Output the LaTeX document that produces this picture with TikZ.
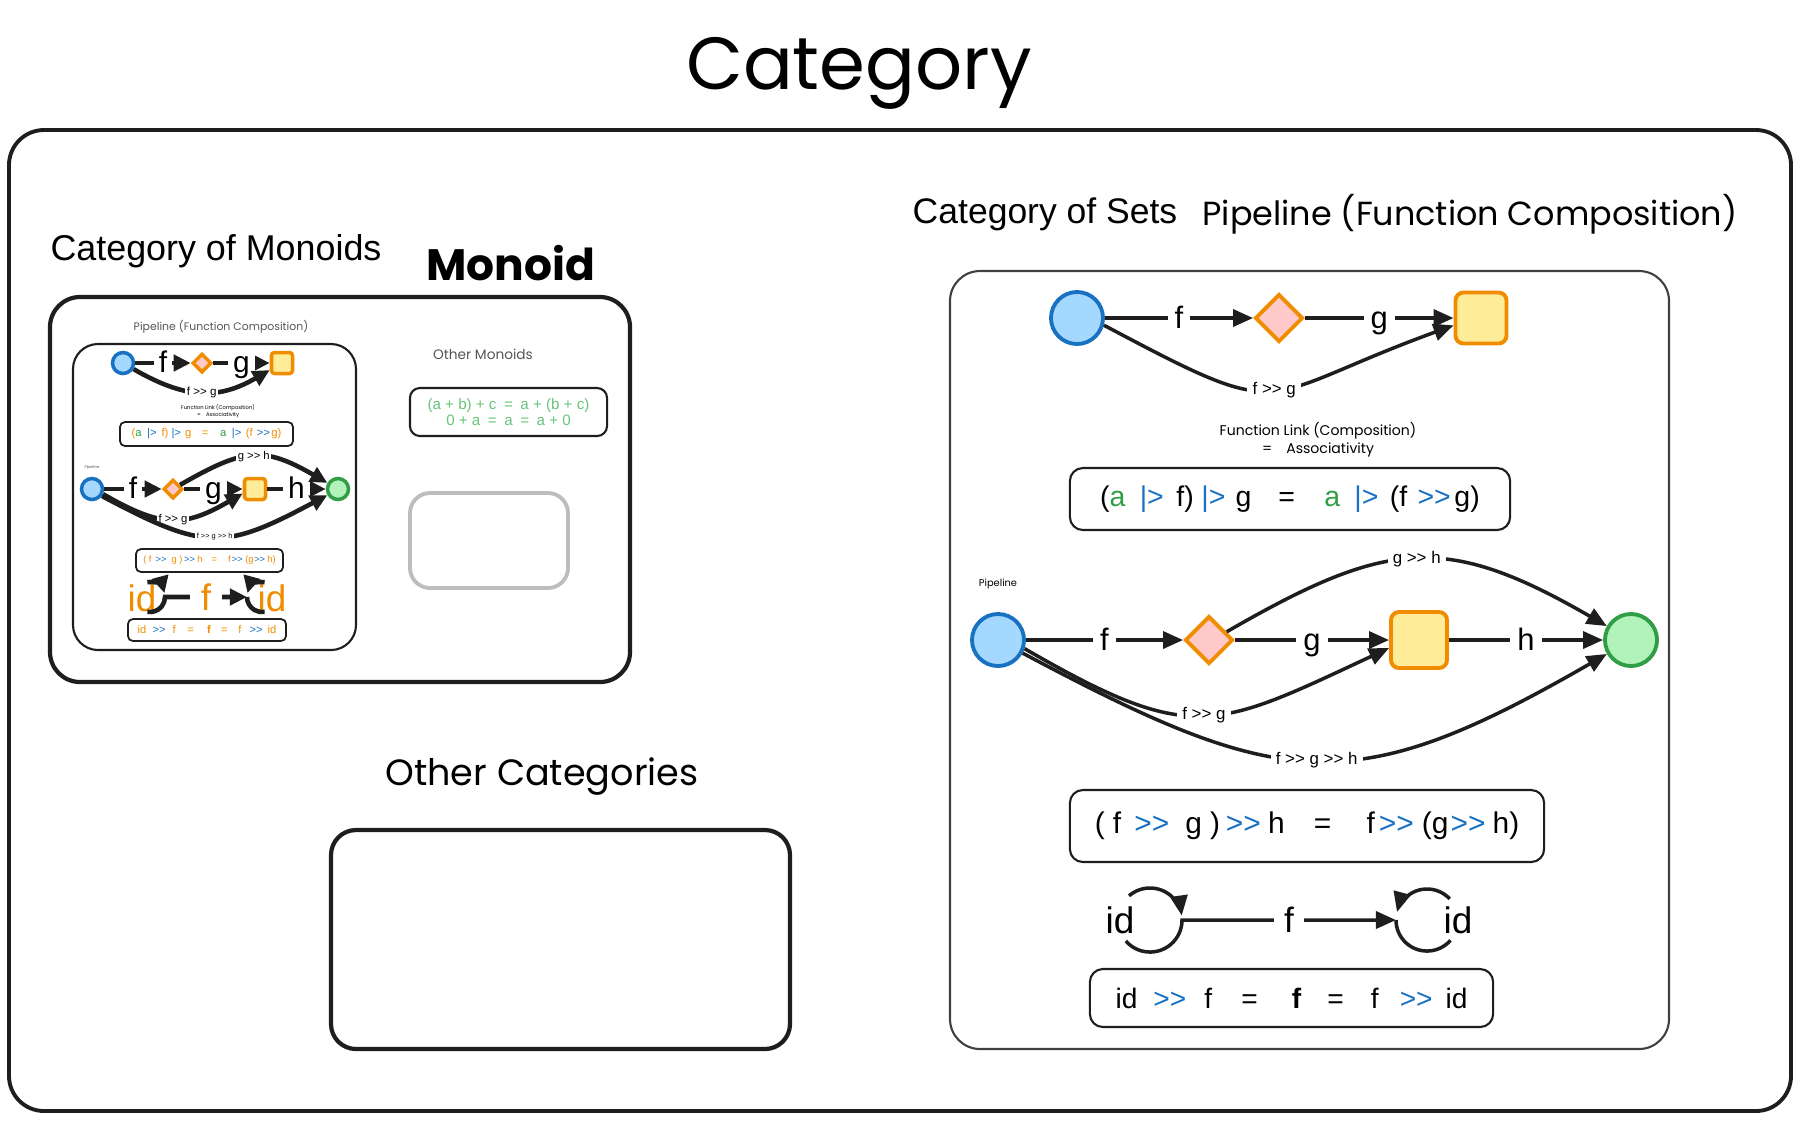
\documentclass[tikz,border=0pt]{standalone}
\usepackage{fontspec}
\setmainfont{Liberation Sans}
\newfontfamily\handfont{Poppins}
\usepackage{tikz}
\usetikzlibrary{positioning}
\usetikzlibrary{shapes.geometric}
\usetikzlibrary{arrows.meta}

\definecolor{inkblack}{HTML}{1E1E1E}
\definecolor{opblue}{HTML}{1971C2}
\definecolor{valgreen}{HTML}{2F9E44}
\definecolor{fnorange}{HTML}{F08C00}
\definecolor{lawgreen}{HTML}{69C47A}
\definecolor{srcfill}{HTML}{A5D8FF}
\definecolor{midfill}{HTML}{FFC9C9}
\definecolor{tgtfill}{HTML}{FFEC99}
\definecolor{endfill}{HTML}{B2F2BB}
\definecolor{boxgray}{HTML}{BDBDBD}
\definecolor{notegray}{HTML}{555555}

\newcommand{\fsz}[1]{\fontsize{#1}{#1}\selectfont}
\newcommand{\gtgt}{>\kern0pt>}
\newcommand{\compop}{\textcolor{opblue}{\gtgt}}
\newcommand{\pipeop}{\textcolor{opblue}{|>}}
\newcommand{\assoclaw}{(\textcolor{valgreen}{a}\hspace{.5em}\pipeop\hspace{.44em}f)\hspace{.27em}\pipeop\hspace{.36em}g\hspace{.94em}=\hspace{1.03em}\textcolor{valgreen}{a}\hspace{.5em}\pipeop\hspace{.4em}(f\hspace{.36em}\compop\hspace{.13em}g)}
\newcommand{\composelaw}{(\hspace{.27em}f\hspace{.44em}\compop\hspace{.54em}g\hspace{.27em})\hspace{.2em}\compop\hspace{.24em}h\hspace{.98em}=\hspace{1.18em}f\hspace{.13em}\compop\hspace{.27em}(g\hspace{.07em}\compop\hspace{.24em}h)}
\newcommand{\identlaw}{id\hspace{.57em}\compop\hspace{.64em}f\hspace{1.04em}=\hspace{1.21em}\textbf{f}\hspace{.93em}=\hspace{.96em}f\hspace{.75em}\compop\hspace{.46em}id}

\begin{document}
\begin{tikzpicture}[x=0.01cm, y=0.01cm,
	morphline/.style={line width=1pt, draw=inkblack},
	morph/.style={morphline, -{Triangle[length=0.2cm,width=0.17cm]}},
	minimorphline/.style={line width=1.3pt, draw=inkblack},
	minimorph/.style={minimorphline, -{Triangle[length=0.17cm,width=0.16cm]}},
	objsrc/.style={circle, draw=opblue, fill=srcfill, line width=1.1pt, minimum size=0.52cm, inner sep=0pt},
	objmid/.style={diamond, draw=fnorange, fill=midfill, line width=1.1pt, minimum width=0.48cm, minimum height=0.48cm, inner sep=0pt},
	objtgt/.style={rectangle, rounded corners=0.08cm, draw=fnorange, fill=tgtfill, line width=1.1pt, minimum size=0.51cm, inner sep=0pt},
	objend/.style={circle, draw=valgreen, fill=endfill, line width=1.1pt, minimum size=0.52cm, inner sep=0pt},
	arrowlbl/.style={fill=white, inner xsep=2pt, inner ysep=1pt, text height=1.5ex, text depth=0.4ex, font=\fsz{8.8}},
	complbl/.style={fill=white, inner xsep=1.5pt, inner ysep=0.5pt, font=\fsz{4.8}},
	minilbl/.style={fill=white, inner xsep=1.5pt, inner ysep=0pt, text height=1.3ex, text depth=0.3ex, font=\fsz{8.5}},
	minicomplbl/.style={fill=white, inner sep=0.4pt, font=\fsz{3.2}},
	lawbox/.style={draw=inkblack, line width=0.6pt, rounded corners=0.13cm, inner sep=0pt},
	minilawbox/.style={draw=inkblack, line width=0.5pt, rounded corners=0.05cm, inner sep=0pt, text=fnorange}
	]
	\useasboundingbox (0,0) rectangle (1800,-1120);

	\node[font={\handfont\fsz{21}}] (title) at (859,-73) {Category};
	\draw[line width=1.1pt, inkblack, rounded corners=0.35cm] (9,-130) rectangle (1791,-1111);

	\node[font=\fsz{10.2}] (monoidcat) at (216,-251) {Category of Monoids};
	\node[font={\handfont\bfseries\fsz{12.5}}] (monoidtitle) at (511,-263) {Monoid};
	\draw[line width=1.2pt, inkblack, rounded corners=0.3cm] (50,-297) rectangle (630,-682);
	\draw[line width=0.6pt, inkblack, rounded corners=0.25cm] (73,-344) rectangle (356,-650);
	\node[font={\handfont\fsz{3.1}}, text=notegray] (minipipetitle) at (221,-327) {Pipeline (Function Composition)};

	\node[objsrc, minimum size=0.21cm, line width=1pt] (mc1) at (123,-363) {};
	\node[objmid, minimum width=0.19cm, minimum height=0.19cm, line width=1pt] (md1) at (202,-363) {};
	\node[objtgt, minimum size=0.21cm, line width=1pt, rounded corners=0.03cm] (ms1) at (282,-363) {};
	\draw[minimorph] (mc1) -- node[minilbl]{f} (md1);
	\draw[minimorph] (md1) -- node[minilbl]{g} (ms1);
	\draw[minimorph] (mc1.-30) to[out=-30,in=210,looseness=1.12] node[minicomplbl, font=\fsz{3.3}]{f \gtgt{} g} (ms1.-150);
	\node[font={\handfont\fontsize{1.5}{2.1}\selectfont}, align=center] (minilinknote) at (218,-411) {Function Link (Composition)\\=\quad Associativity};
	\node[minilawbox, minimum width=1.73cm, minimum height=0.24cm, font=\fsz{3.2}] (miniassoc) at (206.5,-434) {\assoclaw};

	\node[font={\handfont\fsz{1.1}}, text=notegray] (minipipenote) at (92,-468) {Pipeline};
	\node[objsrc, minimum size=0.21cm, line width=1pt] (mc2) at (92,-489) {};
	\node[objmid, minimum width=0.19cm, minimum height=0.19cm, line width=1pt] (md2) at (173,-489) {};
	\node[objtgt, minimum size=0.21cm, line width=1pt, rounded corners=0.03cm] (ms2) at (255,-489) {};
	\node[objend, minimum size=0.21cm, line width=1pt] (me2) at (338,-489) {};
	\draw[minimorph] (mc2) -- node[minilbl]{f} (md2);
	\draw[minimorph] (md2) -- node[minilbl]{g} (ms2);
	\draw[minimorph] (ms2) -- node[minilbl]{h} (me2);
	\draw[minimorph] (md2.30) to[out=30,in=150,looseness=1.28] node[minicomplbl]{g \gtgt{} h} (me2.150);
	\draw[minimorph] (mc2.-25) to[out=-30,in=210,looseness=1.24] node[minicomplbl]{f \gtgt{} g} (ms2.-160);
	\draw[minimorph] (mc2.-35) to[out=-28,in=208,looseness=1.33] node[minicomplbl, font=\fsz{2.1}]{f \gtgt{} g \gtgt{} h} (me2.-150);
	\node[minilawbox, minimum width=1.47cm, minimum height=0.23cm, font=\fsz{2.65}] (minicompose) at (209.5,-560.5) {\composelaw};

	\coordinate (mlloop) at (150,-597);
	\coordinate (mrloop) at (262,-597);
	\node[font=\fsz{10.5}, text=fnorange] (midl) at (142,-598) {id};
	\node[font=\fsz{10.5}, text=fnorange] (midr) at (272,-598) {id};
	\draw[minimorph] ([shift={(100:0.15cm)}]mlloop) arc[start angle=100, end angle=15, radius=0.15cm];
	\draw[minimorph] ([shift={(260:0.15cm)}]mlloop) arc[start angle=260, end angle=360, radius=0.15cm] -- node[fill=white, inner xsep=3pt, inner ysep=0pt, font=\fsz{10.5}, text=fnorange] (midf) {f} ([xshift=-0.15cm]mrloop);
	\draw[minimorph] ([shift={(80:0.15cm)}]mrloop) arc[start angle=80, end angle=165, radius=0.15cm];
	\draw[minimorphline] ([shift={(180:0.15cm)}]mrloop) arc[start angle=180, end angle=280, radius=0.15cm];
	\node[minilawbox, minimum width=1.58cm, minimum height=0.22cm, font=\fsz{3.15}] (miniident) at (207,-630) {\identlaw};

	\node[font={\handfont\fsz{3.9}}, text=notegray] (othermon) at (483,-354) {Other Monoids};
	\node[draw=inkblack, line width=0.6pt, rounded corners=0.1cm, minimum width=1.97cm, minimum height=0.48cm, inner sep=0pt, align=center, text=lawgreen, font=\fontsize{4.3}{4.5}\selectfont] (monoidlaws) at (508.5,-412) {(a + b) + c\enspace=\enspace a + (b + c)\\0 + a\enspace=\enspace a\enspace=\enspace a + 0};
	\draw[boxgray, line width=1.1pt, rounded corners=0.2cm] (410,-493) rectangle (568,-588);

	\node[font={\handfont\fsz{10.4}}] (othercat) at (542,-776) {Other Categories};
	\draw[line width=1.2pt, inkblack, rounded corners=0.25cm] (331,-830) rectangle (790,-1049);

	\node[font=\fsz{10.1}] (setcat) at (1045,-214) {Category of Sets};
	\node[font={\handfont\fsz{9.5}}] (pipetitle) at (1470,-214) {Pipeline (Function Composition)};
	\draw[line width=0.6pt, inkblack!85, rounded corners=0.3cm] (950,-271) rectangle (1669,-1049);

	\node[objsrc] (c1) at (1077,-318) {};
	\node[objmid] (d1) at (1279,-318) {};
	\node[objtgt] (s1) at (1481,-318) {};
	\draw[morph] (c1) -- node[arrowlbl]{f} (d1);
	\draw[morph] (d1) -- node[arrowlbl]{g} (s1);
	\draw[morph] (c1.-15) to[out=-28,in=200,looseness=1.57] node[complbl]{f \gtgt{} g} (s1.-165);
	\node[font={\handfont\fontsize{4}{5.1}\selectfont}, align=center] (linknote) at (1318,-440) {Function Link (Composition)\\=\quad Associativity};
	\node[lawbox, minimum width=4.4cm, minimum height=0.62cm, font=\fsz{8.1}] (assoc) at (1290,-499) {\assoclaw};

	\node[font={\handfont\fsz{2.8}}] (pipenote) at (998,-584) {Pipeline};
	\node[objsrc] (c2) at (998,-640) {};
	\node[objmid] (d2) at (1209,-640) {};
	\node[objtgt, minimum size=0.56cm] (s2) at (1419,-640) {};
	\node[objend] (e2) at (1631,-640) {};
	\draw[morph] (c2) -- node[arrowlbl]{f} (d2);
	\draw[morph] (d2) -- node[arrowlbl]{g} (s2);
	\draw[morph] (s2) -- node[arrowlbl]{h} (e2);
	\draw[morph] (d2.25) to[out=30,in=150,looseness=1.25] node[complbl]{g \gtgt{} h} (e2.150);
	\draw[morph] (c2.-18) to[out=-30,in=205,looseness=1.36] node[complbl]{f \gtgt{} g} (s2.-165);
	\draw[morph] (c2.-28) to[out=-28,in=210,looseness=1.29] node[complbl]{f \gtgt{} g \gtgt{} h} (e2.-150);
	\node[lawbox, minimum width=4.74cm, minimum height=0.72cm, font=\fsz{8.5}] (compose) at (1307,-826) {\composelaw};

	\coordinate (lloop) at (1150,-920);
	\coordinate (rloop) at (1427,-920);
	\node[font=\fsz{10.5}] (idl) at (1120,-920) {id};
	\node[font=\fsz{10.5}] (idr) at (1458,-920) {id};
	\draw[morph] ([shift={(131:0.32cm)}]lloop) arc[start angle=131, end angle=8, radius=0.32cm];
	\draw[morph] ([shift={(221:0.32cm)}]lloop) arc[start angle=221, end angle=360, radius=0.32cm] -- node[fill=white, inner xsep=3pt, inner ysep=1pt, font=\fsz{10}] (idf) {f} ([xshift=-0.31cm]rloop);
	\draw[morph] ([shift={(43:0.31cm)}]rloop) arc[start angle=43, end angle=165, radius=0.31cm];
	\draw[morphline] ([shift={(180:0.31cm)}]rloop) arc[start angle=180, end angle=319, radius=0.31cm];
	\node[lawbox, minimum width=4.03cm, minimum height=0.58cm, font=\fsz{8}] (ident) at (1291.5,-998) {\identlaw};
\end{tikzpicture}
\end{document}
